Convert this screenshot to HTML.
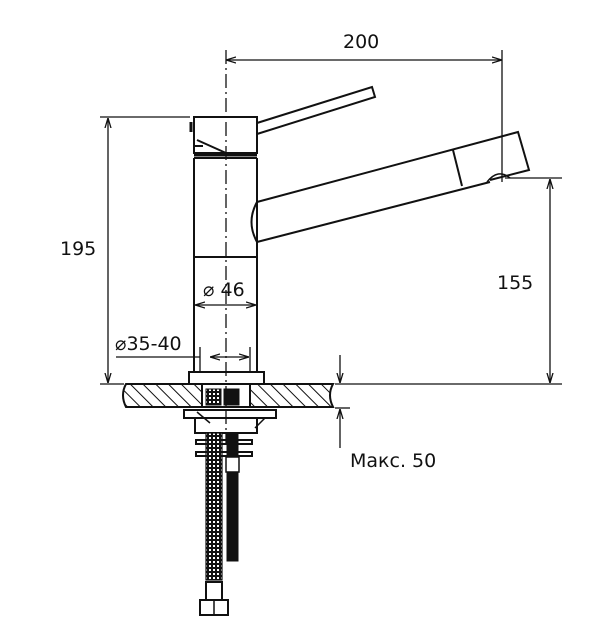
<!DOCTYPE html>
<html><head><meta charset="utf-8"><style>
html,body{margin:0;padding:0;background:#fff;width:604px;height:644px;overflow:hidden}
svg text{font-family:"DejaVu Sans","Liberation Sans",sans-serif;font-size:19px;fill:#111}
</style></head><body>
<svg width="604" height="644" viewBox="0 0 604 644" xmlns="http://www.w3.org/2000/svg">
<defs>
<pattern id="h" width="9" height="9" patternUnits="userSpaceOnUse" patternTransform="rotate(-45)">
<line x1="0" y1="0" x2="0" y2="9" stroke="#111" stroke-width="2"/></pattern>
<pattern id="m" width="4" height="4" patternUnits="userSpaceOnUse">
<rect width="4" height="4" fill="#111"/><rect x="1" y="1" width="2" height="2" fill="#fff"/></pattern>
<marker id="a" markerWidth="10" markerHeight="8" refX="10" refY="4" orient="auto-start-reverse" markerUnits="userSpaceOnUse">
<path d="M0,1 L10,4 L0,7" fill="none" stroke="#111" stroke-width="1.3"/></marker>
</defs>
<g stroke="#111" stroke-width="2" fill="none">
<path d="M257,123 L372,87 L375,97 L257,134"/>
<rect x="194" y="117" width="63" height="36" fill="#fff"/>
<path d="M191,122 v10" stroke-width="3"/>
<path d="M197,140 L226,153 M194,146 L203,146"/>
<line x1="194" y1="155" x2="257" y2="155" stroke-width="3"/>
<path d="M194,158 V384 M257,158 V384 M194,257 H257 M194,158 H257"/>
<path d="M257,202 L518,132 L529,170 L490,180 M257,242 L490,182"/>
<path d="M257,202 Q246,222 257,242"/>
<path d="M453,150 L462,186"/>
<path d="M487,182 Q498,168 510,178" stroke-width="1.5"/>
<rect x="189" y="372" width="75" height="12" fill="#fff"/>
<path d="M126,384 H333 Q327,395 333,407 H126 Q120,395 126,384 Z" fill="url(#h)"/>
<rect x="202" y="384" width="48" height="23" fill="#fff"/>
<rect x="206" y="389" width="15" height="16" fill="url(#m)" stroke-width="1"/>
<rect x="224" y="389" width="15" height="16" fill="#111" stroke-width="1"/>
<rect x="184" y="410" width="92" height="8" fill="#fff"/>
<rect x="195" y="418" width="62" height="15" fill="#fff"/>
<path d="M197,412 L210,423 M265,418 L255,428" stroke-width="1.5"/>
<rect x="196" y="440" width="56" height="4" fill="#fff"/>
<rect x="196" y="452" width="56" height="4" fill="#fff"/>
<rect x="206" y="433" width="16" height="147" fill="url(#m)" stroke-width="1.2"/>
<rect x="227" y="433" width="11" height="128" fill="#111" stroke-width="1"/>
<rect x="226" y="457" width="13" height="15" fill="#fff" stroke-width="1.5"/>
<rect x="206" y="582" width="16" height="18" fill="#fff"/>
<rect x="200" y="600" width="28" height="15" fill="#fff"/>
<line x1="214" y1="600" x2="214" y2="615" stroke-width="1.5"/>
</g>
<line x1="226" y1="50" x2="226" y2="445" stroke="#111" stroke-width="1.3" stroke-dasharray="14,4,2,4"/>
<g stroke="#111" stroke-width="1.3" fill="none">
<line x1="100" y1="117" x2="190" y2="117"/>
<line x1="100" y1="384" x2="124" y2="384"/>
<line x1="108" y1="118" x2="108" y2="383" marker-start="url(#a)" marker-end="url(#a)"/>
<line x1="226" y1="60" x2="502" y2="60" marker-start="url(#a)" marker-end="url(#a)"/>
<line x1="502" y1="50" x2="502" y2="182"/>
<line x1="505" y1="178" x2="562" y2="178"/>
<line x1="550" y1="179" x2="550" y2="383" marker-start="url(#a)" marker-end="url(#a)"/>
<line x1="335" y1="384" x2="562" y2="384"/>
<line x1="195" y1="305" x2="256" y2="305" marker-start="url(#a)" marker-end="url(#a)"/>
<line x1="116" y1="357" x2="200" y2="357"/>
<line x1="210" y1="357" x2="249" y2="357" marker-start="url(#a)" marker-end="url(#a)"/>
<line x1="200" y1="347" x2="200" y2="372"/>
<line x1="250" y1="347" x2="250" y2="372"/>
<line x1="335" y1="408" x2="350" y2="408"/>
<line x1="340" y1="355" x2="340" y2="383" marker-end="url(#a)"/>
<line x1="340" y1="448" x2="340" y2="409" marker-end="url(#a)"/>
</g>
<text x="343" y="48">200</text>
<text x="60" y="255">195</text>
<text x="497" y="289">155</text>
<text x="203" y="296">⌀ 46</text>
<text x="115" y="350">⌀35-40</text>
<text x="350" y="467">Макс. 50</text>
</svg>
</body></html>
